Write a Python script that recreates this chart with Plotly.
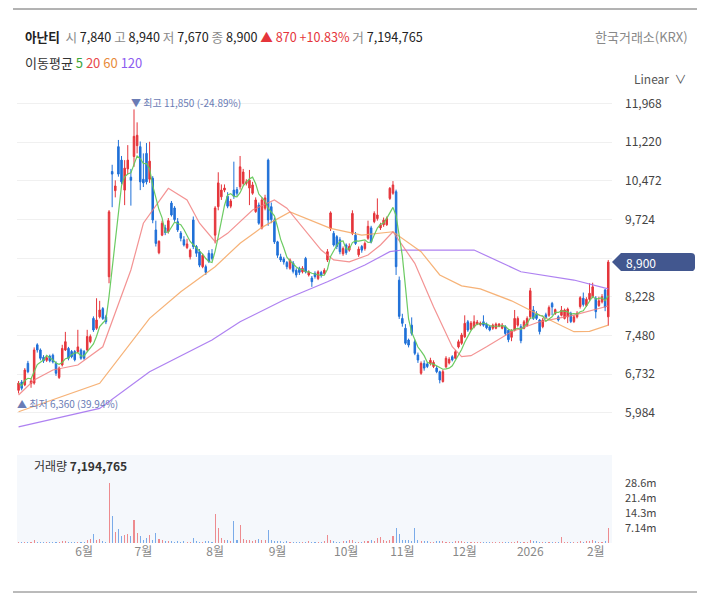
import pandas as pd
import plotly.graph_objects as go

# ======================
# 거래일 (주말 + 휴장일 제외)
# ======================
holidays = ["2025-05-01", "2025-05-05", "2025-05-06", "2025-06-03", "2025-06-06",
            "2025-08-15", "2025-10-03", "2025-10-06", "2025-10-07", "2025-10-08",
            "2025-10-09", "2025-12-25", "2025-12-31", "2026-01-01"]
days = [d.strftime("%Y-%m-%d") for d in pd.bdate_range("2025-04-29", "2026-02-06")]
days = [d for d in days if d not in holidays]

# ======================
# 일봉 (시가 / 고가 / 저가 / 종가)
# ======================
opens = [
    6420, 6580, 6524, 6942, 6550, 6560, 7300, 7200, 7060, 7000,
    7080, 7100, 6942, 6670, 6910, 7200, 7230, 7170, 7170, 7170,
    7200, 7170, 7200, 7360, 7810, 7620, 7840, 8000, 7840, 8616,
    10650, 10280, 11130, 10870, 10290, 10700, 10540, 10940, 11150, 11130,
    10500, 11000, 10500, 10520, 9520, 9080, 9420, 9560, 9490, 10040,
    9945, 9680, 9460, 9330, 9180, 9000, 9712, 9200, 9100, 8810,
    8810, 9070, 9060, 9420, 9970, 10160, 10290, 10170, 9980, 10290,
    10300, 10355, 10420, 10420, 10330, 10230, 9875, 10000, 9560, 9940,
    10870, 9970, 9712, 9290,
    9000, 8960, 8890, 8780, 8880, 8740, 8780, 8710, 8970, 8650,
    8590, 8680, 8580, 8700, 8680, 8940, 9550, 9455, 9390, 9330,
    9060, 9230, 9130, 9455, 9420, 9040, 9200, 9160, 9360, 9560,
    9680, 9740, 9560, 9620, 9620, 10130, 10230, 10260, 8550, 7810,
    7620, 7393, 7680, 7360, 7103, 6750, 6940, 6930, 6940, 6880,
    6850, 6780, 6590, 6875, 6950, 7070, 7040, 7260, 7330, 7455,
    7745, 7600, 7650, 7700, 7690, 7745, 7700, 7650, 7620, 7620,
    7660, 7620, 7650, 7580, 7445, 7585, 7680, 7650, 7620, 7680,
    7840, 7973, 7900, 7780, 7650, 7880, 7870, 8100, 7900, 7840,
    7870, 7810, 7840, 7910, 7750, 7840, 8040, 8200, 8060, 8180,
    8230, 8200, 8060, 8130, 8360, 7840,
]
highs = [
    6600, 6620, 6850, 6990, 6650, 7250, 7330, 7230, 7100, 7090,
    7110, 7130, 6980, 6880, 7300, 7550, 7260, 7200, 7200, 7590,
    7230, 7200, 7590, 7500, 7850, 8200, 8150, 8030, 7880, 9905,
    10780, 10480, 11260, 10950, 10870, 11160, 10700, 11850, 11600, 11230,
    11000, 11200, 11225, 10560, 9700, 9320, 9700, 9620, 9750, 10080,
    9980, 9750, 9500, 9400, 9350, 9160, 9780, 9230, 9150, 9060,
    8850, 9130, 9150, 9980, 10635, 10400, 10400, 10250, 10120, 10840,
    10350, 10950, 10700, 10500, 10680, 10450, 10150, 10050, 10150, 10200,
    10900, 10050, 9760, 9310,
    9060, 9000, 8920, 8970, 8920, 8780, 8810, 8820, 9000, 8740,
    8630, 8720, 8740, 8730, 8780, 9150, 9880, 9500, 9420, 9380,
    9200, 9260, 9260, 9900, 9480, 9200, 9230, 9300, 9700, 9600,
    9880, 10130, 9660, 9760, 9780, 10350, 10465, 10300, 8620, 7900,
    7700, 7420, 7830, 7400, 7150, 6980, 7000, 6960, 7050, 7000,
    6890, 6800, 6820, 7080, 7060, 7100, 7200, 7400, 7530, 7870,
    7780, 7760, 7870, 7780, 7750, 7870, 7730, 7680, 7710, 7730,
    7720, 7720, 7680, 7600, 7600, 7973, 7850, 7700, 7780, 7850,
    8400, 8050, 7950, 7800, 7820, 7920, 8060, 8130, 8000, 7870,
    8050, 8000, 8020, 7940, 7880, 7950, 8240, 8310, 8220, 8490,
    8500, 8240, 8230, 8280, 8380, 8940,
]
lows = [
    6360, 6420, 6500, 6750, 6470, 6530, 7150, 7000, 6950, 6970,
    6960, 6940, 6700, 6640, 6880, 7180, 7000, 7040, 6980, 7140,
    7010, 7010, 7170, 7330, 7550, 7590, 7810, 7780, 7700, 8490,
    9960, 10150, 10550, 10400, 10000, 10600, 9990, 10740, 11000, 10290,
    10350, 10400, 10430, 9650, 9200, 9050, 9400, 9420, 9450, 9780,
    9680, 9480, 9300, 9200, 9150, 8950, 9150, 9000, 8800, 8780,
    8650, 8880, 8930, 9260, 9900, 10100, 10250, 9940, 9940, 10120,
    10180, 10300, 10380, 10380, 10000, 10200, 9850, 9620, 9530, 9900,
    9600, 9650, 9250, 8980,
    8900, 8850, 8760, 8750, 8680, 8600, 8650, 8680, 8680, 8620,
    8420, 8580, 8550, 8600, 8650, 8900, 9500, 9200, 9150, 9050,
    9020, 9040, 9100, 9420, 9230, 9000, 9080, 9120, 9330, 9260,
    9650, 9700, 9520, 9580, 9600, 10100, 10200, 8650, 7800, 7650,
    7300, 7250, 7480, 7100, 6950, 6720, 6800, 6850, 6900, 6850,
    6750, 6555, 6570, 6850, 6920, 6980, 7020, 7230, 7300, 7430,
    7550, 7580, 7620, 7680, 7660, 7650, 7600, 7560, 7590, 7600,
    7640, 7600, 7480, 7350, 7370, 7560, 7650, 7330, 7600, 7650,
    7800, 7780, 7780, 7500, 7620, 7800, 7840, 7870, 7880, 7750,
    7850, 7790, 7720, 7720, 7720, 7810, 8000, 8040, 8030, 8150,
    8200, 7810, 8030, 8100, 7950, 7670,
]
closes = [
    6560, 6460, 6813, 6780, 6600, 7200, 7200, 7040, 6990, 7050,
    6990, 6970, 6750, 6850, 7230, 7360, 7040, 7070, 7010, 7260,
    7040, 7040, 7460, 7460, 7586, 7780, 7973, 7810, 7745, 9870,
    10600, 10370, 10600, 10450, 10715, 10870, 10480, 11330, 11350, 10450,
    10430, 10450, 10850, 9712, 9260, 9300, 9650, 9470, 9700, 9810,
    9720, 9520, 9360, 9230, 9250, 9130, 9200, 9070, 8840, 9030,
    8700, 8910, 8970, 9945, 10430, 10290, 10330, 9980, 10080, 10170,
    10230, 10740, 10640, 10450, 10480, 10390, 10100, 9650, 10100, 10140,
    9712, 9720, 9290, 9030,
    8940, 8900, 8810, 8940, 8720, 8650, 8700, 8780, 8710, 8710,
    8520, 8620, 8710, 8640, 8740, 9100, 9850, 9230, 9200, 9100,
    9160, 9080, 9200, 9840, 9260, 9150, 9130, 9260, 9590, 9290,
    9840, 9810, 9620, 9710, 9740, 10325, 10390, 8810, 7850, 7715,
    7330, 7295, 7520, 7135, 7006, 6942, 6850, 6880, 7000, 6960,
    6780, 6620, 6780, 7040, 7020, 7010, 7165, 7360, 7490, 7715,
    7585, 7720, 7745, 7740, 7720, 7680, 7630, 7585, 7680, 7700,
    7700, 7680, 7520, 7400, 7570, 7810, 7810, 7380, 7745, 7810,
    8345, 7810, 7810, 7555, 7780, 7820, 8020, 8030, 7980, 7780,
    7970, 7973, 7990, 7750, 7840, 7910, 8210, 8080, 8180, 8295,
    8420, 7940, 8150, 8230, 8030, 8900,
]
# 거래량 (백만 주)
volumes = [
    0.5, 0.4, 0.6, 0.5, 0.4, 1.3, 0.5, 0.6, 0.4, 0.3,
    0.4, 0.3, 0.5, 0.4, 0.8, 0.9, 0.5, 0.4, 0.3, 0.6,
    0.4, 0.4, 1.3, 2.0, 4.1, 1.5, 1.8, 0.9, 0.7, 28.6,
    12.9, 5.1, 6.8, 3.5, 4.0, 4.5, 3.2, 10.8, 4.8, 3.2,
    1.6, 2.2, 4.0, 1.5, 5.0, 2.0, 1.2, 0.9, 1.0, 0.8,
    0.7, 1.0, 0.6, 0.8, 0.5, 0.7, 2.2, 0.8, 0.6, 0.7,
    0.9, 0.8, 0.7, 13.7, 7.3, 2.5, 1.5, 1.2, 1.0, 10.3,
    1.5, 8.7, 2.0, 1.6, 1.4, 1.0, 1.2, 1.8, 1.3, 1.2,
    6.0, 1.5, 1.0, 0.9, 0.8, 0.7, 0.8, 0.6, 0.7, 0.5,
    0.6, 0.6, 0.5, 0.9, 0.6, 0.5, 0.6, 0.5, 0.8, 4.0,
    1.5, 0.9, 0.7, 0.6, 0.8, 0.9, 1.5, 1.6, 0.7, 0.6,
    0.7, 1.0, 0.8, 1.2, 1.0, 2.5, 3.0, 1.2, 1.0, 1.5,
    3.3, 7.3, 4.1, 1.5, 1.2, 1.5, 1.0, 7.3, 1.2, 1.0,
    0.8, 0.9, 0.7, 0.6, 0.9, 1.1, 0.9, 0.7, 0.6, 0.7,
    0.8, 0.9, 1.0, 0.7, 0.6, 0.5, 0.6, 0.5, 0.4, 0.5,
    0.4, 0.5, 0.4, 0.4, 0.5, 0.4, 0.5, 0.6, 0.4, 0.5,
    1.0, 0.7, 0.5, 0.6, 1.4, 0.8, 1.0, 0.6, 0.5, 0.6,
    0.7, 0.6, 0.5, 0.6, 2.7, 0.6, 0.5, 0.5, 0.4, 0.5,
    0.9, 0.7, 1.0, 0.8, 1.2, 1.0, 0.6, 0.7, 0.8, 7.194765,
]
assert len(days) == len(opens) == len(highs) == len(lows) == len(closes) == len(volumes) == 190

# ======================
# 이동평균 (그림에서 읽은 값, 거래일 번호 기준)
# ======================
ma20_day = [0, 5, 11, 19, 27, 36, 40, 48, 54, 58, 63, 67, 75, 82, 86, 91, 97, 101,
            106, 112, 116, 120, 127, 133, 139, 142, 145, 150, 158, 167, 178, 189]
ma20_val = [6330, 6620, 6813, 6910, 7262, 8746, 9650, 10325, 10100, 9650, 9293, 9455,
            9905, 10099, 9940, 9580, 9132, 8940, 8905, 9035, 9230, 9485, 8875, 8035,
            7262, 7070, 7090, 7262, 7553, 7745, 7875, 8050]
ma60_day = [0, 26, 42, 52, 63, 71, 78, 87, 100, 110, 120, 129, 135, 142, 148, 158,
            167, 178, 183, 189]
ma60_val = [6005, 6556, 7812, 8325, 8810, 9262, 9570, 9870, 9550, 9422, 9485, 9100,
            8650, 8440, 8380, 8150, 7875, 7553, 7560, 7680]
ma120_day = [0, 26, 42, 62, 71, 85, 99, 111, 119, 123, 146, 151, 161, 178, 189]
ma120_val = [5713, 6070, 6780, 7393, 7746, 8166, 8520, 8843, 9100, 9132, 9132, 8990,
             8712, 8552, 8380]

month_starts = ["2025-06-02", "2025-07-01", "2025-08-01", "2025-09-01", "2025-10-01",
                "2025-11-03", "2025-12-01", "2026-01-02", "2026-02-02"]
month_labels = ["6월", "7월", "8월", "9월", "10월", "11월", "12월", "2026", "2월"]

price_ticks = [5984, 6732, 7480, 8228, 8976, 9724, 10472, 11220, 11968]
vol_ticks = [7.14, 14.3, 21.4, 28.6]

FONT = "Noto Sans CJK KR"
RED = "#e5353b"
BLUE = "#1f70d8"


# 화면 픽셀 -> paper 좌표 (페이지 여백 8px 포함)
def px_x(p):
    return (p - 17) / 595


def px_y(p):
    return (543 - p) / 455


ma5 = pd.Series(closes).rolling(5, min_periods=1).mean()
vol_colors = ["rgba(232,80,84,0.65)" if c >= o else "rgba(40,120,220,0.6)"
              for o, c in zip(opens, closes)]

fig = go.Figure()

fig.add_trace(go.Candlestick(
    x=days, open=opens, high=highs, low=lows, close=closes,
    increasing=dict(line=dict(color=RED, width=1), fillcolor=RED),
    decreasing=dict(line=dict(color=BLUE, width=1), fillcolor=BLUE),
    hoverinfo="none", xaxis="x", yaxis="y",
))

for xs, ys, col in [
    ([days[d] for d in ma120_day], ma120_val, "rgba(165,115,240,0.9)"),
    ([days[d] for d in ma60_day], ma60_val, "rgba(245,165,95,0.85)"),
    ([days[d] for d in ma20_day], ma20_val, "rgba(240,120,120,0.8)"),
    (days, ma5, "rgba(100,200,90,0.95)"),
]:
    fig.add_trace(go.Scatter(x=xs, y=ys, mode="lines", line=dict(color=col, width=1.2),
                             hoverinfo="skip", xaxis="x", yaxis="y"))

fig.add_trace(go.Bar(x=days, y=volumes, marker=dict(color=vol_colors, line=dict(width=0)),
                     width=0.35, hoverinfo="skip", xaxis="x2", yaxis="y2"))

# ======================
# 텍스트
# ======================
last_o, last_h, last_l, last_c = opens[-1], highs[-1], lows[-1], closes[-1]
chg = last_c - closes[-2]
pct = chg / closes[-2] * 100
g = "<span style='color:#8a8a8a'>%s</span>"
header = ("<b>아난티</b>  " + g % "시" + " %s " % f"{last_o:,}" + g % "고" + " %s " % f"{last_h:,}"
          + g % "저" + " %s " % f"{last_l:,}" + g % "종" + " %s " % f"{last_c:,}"
          + f"<span style='color:{RED}'>▲ {chg:,} +{pct:.2f}%</span> "
          + g % "거" + f" {volumes[-1] * 1e6:,.0f}")

hi = max(highs)
lo = min(lows)
hi_day = days[highs.index(hi)]
lo_day = days[lows.index(lo)]

annotations = [
    dict(text=header, x=px_x(23), y=px_y(37), font=dict(size=12.6, color="#222")),
    dict(text="한국거래소(KRX)", x=px_x(690), y=px_y(37), xanchor="right",
         font=dict(size=13, color="#888")),
    dict(text="이동평균 <span style='color:#3aa63a'>5</span> <span style='color:#e8484a'>20</span> "
              "<span style='color:#e88a3a'>60</span> <span style='color:#8d5cf0'>120</span>",
         x=px_x(23), y=px_y(63), font=dict(size=13, color="#333")),
    dict(text="Linear  ∨", x=px_x(688), y=px_y(78), xanchor="right",
         font=dict(size=12, color="#555")),
    dict(text="거래량 <b>%s</b>" % f"{volumes[-1] * 1e6:,.0f}", x=px_x(32), y=px_y(466),
         font=dict(size=12, color="#333")),
    dict(text=f"▼ 최고 {hi:,} ({(last_c - hi) / hi * 100:.2f}%)", xref="x", yref="y",
         x=hi_day, y=hi, xshift=-5, yshift=7, font=dict(size=10, color="#6a7cb5")),
    dict(text=f"▲ 최저 {lo:,} ({(last_c - lo) / lo * 100:.2f}%)", xref="x", yref="y",
         x=lo_day, y=lo, xshift=-4, yshift=-10, font=dict(size=10, color="#6a7cb5")),
    dict(text=f"{last_c:,}", x=px_x(624), y=last_c, yref="y",
         font=dict(size=12, color="white")),
]
for a in annotations:
    a.setdefault("xref", "paper")
    a.setdefault("yref", "paper")
    a.setdefault("xanchor", "left")
    a.setdefault("yanchor", "middle")
    a["showarrow"] = False

tag_h = 9 * 19.33
shapes = [
    dict(type="rect", xref="paper", yref="paper", x0=0, x1=1, y0=0, y1=px_y(455),
         fillcolor="#f5f8fc", line=dict(width=0), layer="below"),
    dict(type="line", xref="paper", yref="paper", x0=px_x(13), x1=px_x(697),
         y0=px_y(9), y1=px_y(9), line=dict(color="#666", width=1)),
    dict(type="line", xref="paper", yref="paper", x0=px_x(13), x1=px_x(697),
         y0=px_y(592), y1=px_y(592), line=dict(color="#777", width=1)),
    dict(type="line", xref="paper", yref="paper", x0=px_x(366), x1=px_x(366),
         y0=px_y(0), y1=px_y(8), line=dict(color="#ddd", width=1)),
    dict(type="line", xref="paper", yref="paper", x0=px_x(434), x1=px_x(434),
         y0=px_y(0), y1=px_y(8), line=dict(color="#ddd", width=1)),
    dict(type="path", xref="paper", yref="y", layer="above", fillcolor="#42578f",
         line=dict(width=0),
         path=(f"M {px_x(612)},{last_c} L {px_x(621)},{last_c + tag_h} "
               f"L {px_x(691)},{last_c + tag_h} Q {px_x(695)},{last_c + tag_h} {px_x(695)},{last_c + tag_h - 70} "
               f"L {px_x(695)},{last_c - tag_h + 70} Q {px_x(695)},{last_c - tag_h} {px_x(691)},{last_c - tag_h} "
               f"L {px_x(621)},{last_c - tag_h} Z")),
]

fig.update_layout(
    width=710, height=600,
    margin=dict(l=9, r=106, t=80, b=65),
    paper_bgcolor="white", plot_bgcolor="white",
    showlegend=False,
    font=dict(family=FONT, size=12, color="#333"),
    xaxis=dict(type="category", domain=[0, 1], anchor="y", range=[-0.5, 190.2],
               showticklabels=False, showgrid=False, zeroline=False, showline=False,
               rangeslider=dict(visible=False), fixedrange=True),
    xaxis2=dict(type="category", domain=[0, 1], anchor="y2", matches="x",
                tickvals=month_starts, ticktext=month_labels, showgrid=False,
                showline=False, zeroline=False, ticks="",
                tickfont=dict(size=12, color="#888")),
    yaxis=dict(domain=[px_y(440), 1], range=[5460, 12264], side="right",
               tickvals=price_ticks,
               ticktext=["" if v == 8976 else f"{v:,}" for v in price_ticks],
               gridcolor="#f0f0f0", zeroline=False, showline=False, ticks="",
               ticklabelstandoff=12, tickfont=dict(size=12, color="#444")),
    yaxis2=dict(domain=[0, px_y(455)], range=[0, 41.9], side="right",
                tickvals=vol_ticks, ticktext=[f"{v}m" for v in vol_ticks],
                showgrid=False, zeroline=False, showline=False, ticks="",
                ticklabelstandoff=12, tickfont=dict(size=11, color="#444")),
    annotations=annotations,
    shapes=shapes,
    bargap=0,
)

fig.write_html("out.html")
